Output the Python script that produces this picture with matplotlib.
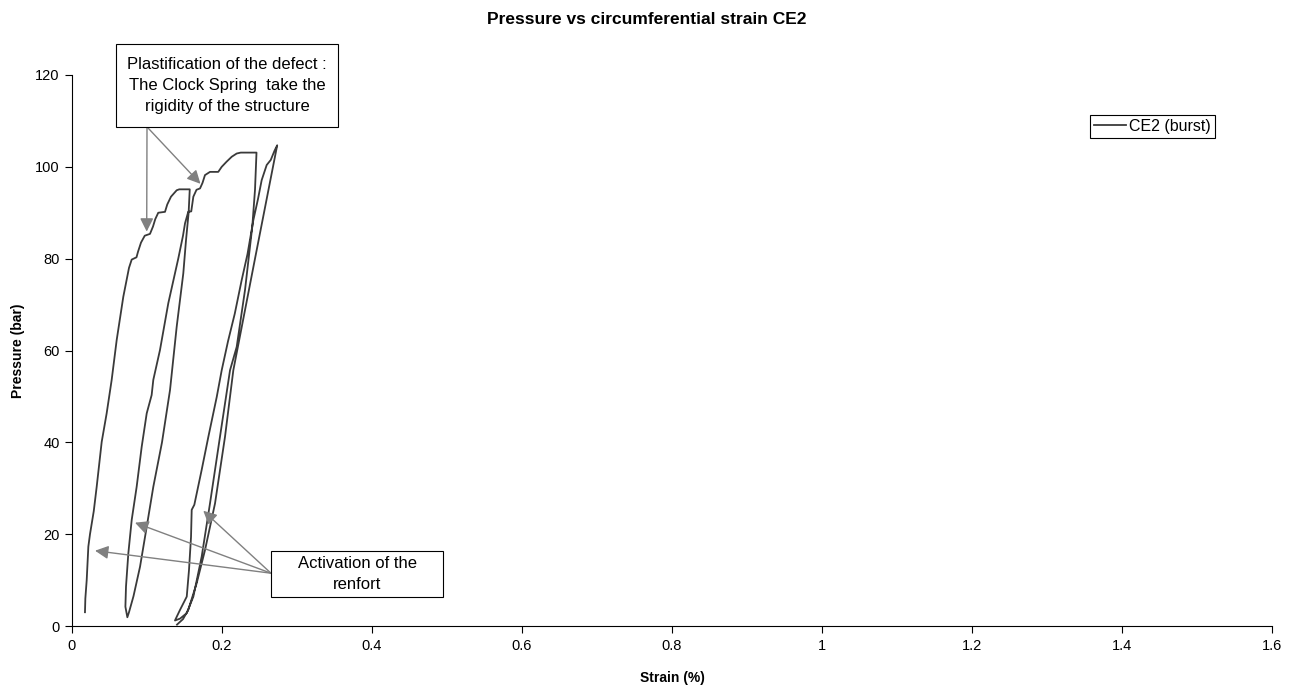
import matplotlib
matplotlib.use("Agg")
import matplotlib.pyplot as plt
from matplotlib.patches import Rectangle
from matplotlib.ticker import FuncFormatter, MultipleLocator

plt.rcParams['font.family'] = ['Liberation Sans', 'DejaVu Sans']

# ---- data (strain %, pressure bar) ----
cycle1_load_strain = [0.0173, 0.0178, 0.0196, 0.0218, 0.0240, 0.0290, 0.0329, 0.0396, 0.0462, 0.0529,
                      0.0596, 0.0684, 0.0760, 0.0796, 0.0860, 0.0880, 0.0920, 0.0970, 0.1040, 0.1080,
                      0.1110, 0.1150, 0.1240, 0.1270, 0.1320, 0.1396, 0.1430, 0.1570]
cycle1_load_press = [3.0, 6.0, 10.0, 17.3, 20.0, 25.0, 30.3, 40.1, 46.3, 53.6,
                     62.3, 71.7, 78.0, 79.8, 80.3, 81.5, 83.5, 85.0, 85.4, 87.0,
                     88.6, 90.0, 90.2, 91.8, 93.5, 94.9, 95.1, 95.1]

cycle1_unload_strain = [0.1555, 0.1520, 0.1484, 0.1396, 0.1307, 0.1200, 0.1084, 0.0990, 0.0907, 0.0820,
                        0.0760, 0.0738]
cycle1_unload_press = [90.0, 84.0, 76.8, 65.2, 51.4, 40.0, 30.3, 21.0, 12.9, 6.5,
                       3.0, 1.9]

cycle2_load_strain = [0.0712, 0.0720, 0.0751, 0.0796, 0.0862, 0.0929, 0.0996, 0.1062, 0.1084, 0.1173,
                      0.1284, 0.1418, 0.1480, 0.1507, 0.1550, 0.1590, 0.1618, 0.1660, 0.1707, 0.1740,
                      0.1773, 0.1840, 0.1950, 0.1996, 0.2060, 0.2130, 0.2196, 0.2250, 0.2460]
cycle2_load_press = [4.2, 8.6, 15.8, 23.1, 30.3, 39.0, 46.3, 50.3, 53.6, 60.1,
                     70.3, 80.1, 85.0, 87.7, 90.2, 90.3, 93.5, 95.0, 95.3, 96.5,
                     98.2, 98.9, 98.9, 100.0, 101.1, 102.2, 102.9, 103.1, 103.1]

cycle2_unload_strain = [0.2440, 0.2404, 0.2307, 0.2196, 0.2107, 0.1973, 0.1840, 0.1729, 0.1618, 0.1530,
                        0.1440, 0.1373]
cycle2_unload_press = [95.0, 87.0, 73.2, 60.8, 55.7, 41.2, 26.7, 15.1, 6.4, 2.8,
                       1.6, 1.2]

cycle3_load_strain = [0.1396, 0.1440, 0.1530, 0.1560, 0.1587, 0.1596, 0.1631, 0.1729, 0.1818, 0.1930,
                      0.1996, 0.2080, 0.2170, 0.2262, 0.2340, 0.2418, 0.2480, 0.2529, 0.2596, 0.2650,
                      0.2700, 0.2736]
cycle3_load_press = [2.0, 3.5, 6.4, 12.2, 19.4, 25.3, 26.4, 34.0, 41.2, 49.9,
                     55.7, 62.0, 68.0, 75.3, 81.0, 88.4, 93.0, 97.1, 100.4, 101.5,
                     103.5, 104.7]

burst_drop_strain = [0.2440, 0.2151, 0.2040, 0.1907, 0.1773, 0.1662, 0.1550, 0.1480, 0.1400]
burst_drop_press = [80.0, 55.7, 41.2, 26.7, 16.5, 9.3, 3.5, 1.5, 0.3]

strain = (cycle1_load_strain + cycle1_unload_strain + cycle2_load_strain +
          cycle2_unload_strain + cycle3_load_strain + burst_drop_strain)
pressure = (cycle1_load_press + cycle1_unload_press + cycle2_load_press +
            cycle2_unload_press + cycle3_load_press + burst_drop_press)

series_label = "CE2 (burst)"
title = "Pressure vs circumferential strain CE2"
xlabel = "Strain (%)"
ylabel = "Pressure (bar)"

note1_text = "Plastification of the defect :\nThe Clock Spring  take the\nrigidity of the structure"
note1_origin = (0.100, 108.7)
note1_tips = [(0.0996, 85.9), (0.1713, 96.3)]
note2_text = "Activation of the\nrenfort"
note2_origin = (0.2653, 11.5)
note2_tips = [(0.0307, 16.4), (0.0840, 22.5), (0.1750, 25.1)]

# ---- figure ----
W, H = 1294, 686
fig = plt.figure(figsize=(W / 100, H / 100), dpi=100)
ax = fig.add_axes([72 / W, 1 - 626 / H, 1200 / W, 551 / H])

ax.plot(strain, pressure, color='#3a3a3a', lw=1.3, label=series_label, zorder=3)

ax.set_xlim(0, 1.6)
ax.set_ylim(0, 120)
ax.xaxis.set_major_locator(MultipleLocator(0.2))
ax.yaxis.set_major_locator(MultipleLocator(20))
ax.xaxis.set_major_formatter(FuncFormatter(lambda v, p: f"{v:g}"))
ax.yaxis.set_major_formatter(FuncFormatter(lambda v, p: f"{v:g}"))
for s in ['top', 'right']:
    ax.spines[s].set_visible(False)
for s in ['left', 'bottom']:
    ax.spines[s].set_color('#000000')
    ax.spines[s].set_linewidth(0.8)
ax.tick_params(direction='out', length=5, width=0.8, labelsize=10.5, colors='#000000', pad=4)

fig.text(647 / W, 1 - 20 / H, title, fontsize=12.5, fontweight='bold', ha='center', va='center')
ax.set_xlabel(xlabel, fontsize=10, fontweight='bold', labelpad=13)
ax.set_ylabel(ylabel, fontsize=10, fontweight='bold', labelpad=7)

leg = ax.legend(loc='upper right', bbox_to_anchor=(1215 / W, 1 - 115 / H),
                bbox_transform=fig.transFigure, fontsize=11.5, frameon=True,
                fancybox=False, framealpha=1, edgecolor='#000000', borderaxespad=0,
                handlelength=2.0, handletextpad=0.2, borderpad=0.25)
leg.get_frame().set_linewidth(0.8)

arrow_kw = dict(arrowstyle='-|>', color='#808080', lw=1.0, mutation_scale=20,
                shrinkA=0, shrinkB=0)


def px2data(px, py):
    return ((px - 72) / 750.0, (626 - py) / (551 / 120.0))


x0, y0 = px2data(116, 127)
x1, y1 = px2data(338, 44)
ax.add_patch(Rectangle((x0, y0), x1 - x0, y1 - y0, facecolor='white', edgecolor='#000000',
                       lw=0.8, clip_on=False, zorder=5))
ax.text((x0 + x1) / 2, (y0 + y1) / 2, note1_text, ha='center', va='center', fontsize=12,
        linespacing=1.5, zorder=6, clip_on=False)
for tip in note1_tips:
    ax.annotate('', xy=tip, xytext=note1_origin, arrowprops=arrow_kw, zorder=4,
                annotation_clip=False)

x0, y0 = px2data(271, 597)
x1, y1 = px2data(443, 551)
ax.add_patch(Rectangle((x0, y0), x1 - x0, y1 - y0, facecolor='white', edgecolor='#000000',
                       lw=0.8, clip_on=False, zorder=5))
ax.text((x0 + x1) / 2, (y0 + y1) / 2, note2_text, ha='center', va='center', fontsize=12,
        linespacing=1.5, zorder=6)
for tip in note2_tips:
    ax.annotate('', xy=tip, xytext=note2_origin, arrowprops=arrow_kw, zorder=4)

fig.savefig('out.png', dpi=100)
